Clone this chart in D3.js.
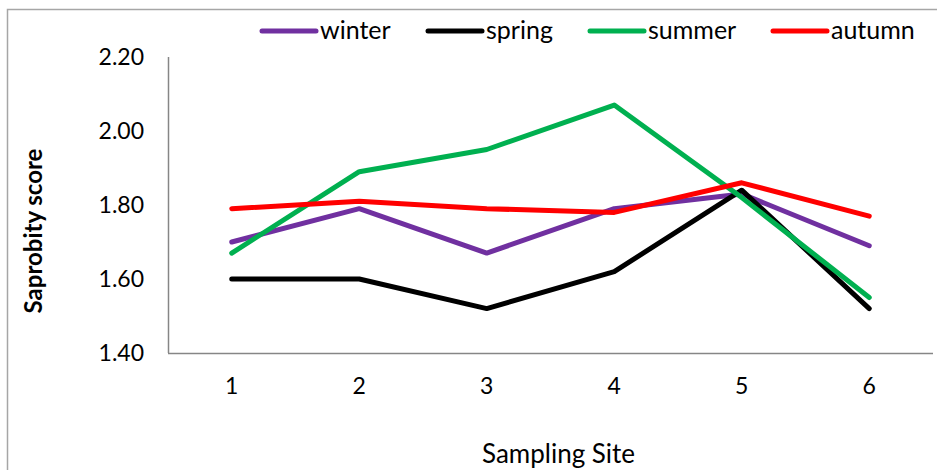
<!DOCTYPE html>
<html>
<head>
<meta charset="utf-8">
<script src="https://cdn.jsdelivr.net/npm/d3@7"></script>
<style>
  html, body { margin: 0; padding: 0; background: #fff; }
  svg { display: block; }
</style>
</head>
<body>
<svg id="chart" width="937" height="470"></svg>
<script>
// Saprobity score per sampling site, one series per season
const sites = ["1", "2", "3", "4", "5", "6"];
const seasons = ["winter", "spring", "summer", "autumn"];
const winter = [1.70, 1.79, 1.67, 1.79, 1.83, 1.69];
const spring = [1.60, 1.60, 1.52, 1.62, 1.84, 1.52];
const summer = [1.67, 1.89, 1.95, 2.07, 1.82, 1.55];
const autumn = [1.79, 1.81, 1.79, 1.78, 1.86, 1.77];
const yTicks = [1.40, 1.60, 1.80, 2.00, 2.20];
const seasonColors = ["#7030A0", "#000000", "#00B050", "#FF0000"];

const seriesValues = [winter, spring, summer, autumn];
const series = seasons.map((name, i) => ({ name, values: seriesValues[i], color: seasonColors[i] }));

const svg = d3.select("#chart");
const font = "Lato, 'Open Sans', sans-serif";

// outer frame (top and left edges visible)
svg.append("path")
  .attr("d", "M7.5,470 L7.5,9.5 L937,9.5")
  .attr("fill", "none")
  .attr("stroke", "#a6a6a6")
  .attr("stroke-width", 1.5);

const plot = { left: 168, right: 933, top: 57, bottom: 353 };

const x = d3.scaleBand().domain(sites).range([plot.left, plot.right]);
const y = d3.scaleLinear().domain([1.4, 2.2]).range([plot.bottom, plot.top]);

// axis lines
const axisColor = "#868686";
svg.append("line")
  .attr("x1", plot.left + 0.5).attr("x2", plot.left + 0.5)
  .attr("y1", plot.top).attr("y2", plot.bottom)
  .attr("stroke", axisColor).attr("stroke-width", 1.5);
svg.append("line")
  .attr("x1", plot.left).attr("x2", plot.right)
  .attr("y1", plot.bottom + 0.5).attr("y2", plot.bottom + 0.5)
  .attr("stroke", axisColor).attr("stroke-width", 1.5);

// y tick labels
const yAxis = d3.axisLeft(y).tickValues(yTicks).tickFormat(d3.format(".2f")).tickSize(0).tickPadding(24);
const gy = svg.append("g").attr("transform", `translate(${plot.left},0)`).call(yAxis);
gy.select(".domain").remove();
gy.selectAll("text").attr("font-family", font).attr("font-size", 23).attr("fill", "#000");

// x tick labels
const xAxis = d3.axisBottom(x).tickSize(0).tickPadding(25);
const gx = svg.append("g").attr("transform", `translate(0,${plot.bottom})`).call(xAxis);
gx.select(".domain").remove();
gx.selectAll("text").attr("font-family", font).attr("font-size", 23).attr("fill", "#000");

// axis titles
svg.append("text")
  .attr("x", (plot.left + plot.right) / 2 + 8)
  .attr("y", 463)
  .attr("text-anchor", "middle")
  .attr("font-family", font).attr("font-size", 26)
  .text("Sampling Site");

svg.append("text")
  .attr("transform", `translate(42,231) rotate(-90)`)
  .attr("text-anchor", "middle")
  .attr("font-family", font).attr("font-size", 24).attr("font-weight", "bold")
  .text("Saprobity score");

// series lines
const line = d3.line()
  .x((d, i) => x(sites[i]) + x.bandwidth() / 2)
  .y(d => y(d));

svg.append("g").selectAll("path")
  .data(series)
  .join("path")
  .attr("d", d => line(d.values))
  .attr("fill", "none")
  .attr("stroke", d => d.color)
  .attr("stroke-width", 5)
  .attr("stroke-linejoin", "round")
  .attr("stroke-linecap", "round");

// legend
const legendX = [262, 428, 590, 773];
const legend = svg.append("g").selectAll("g")
  .data(series)
  .join("g")
  .attr("transform", (d, i) => `translate(${legendX[i]},31)`);
legend.append("line")
  .attr("x1", 0).attr("x2", 54)
  .attr("stroke", d => d.color)
  .attr("stroke-width", 5)
  .attr("stroke-linecap", "round");
legend.append("text")
  .attr("x", 58).attr("y", 8)
  .attr("font-family", font).attr("font-size", 25)
  .text(d => d.name);
</script>
</body>
</html>
